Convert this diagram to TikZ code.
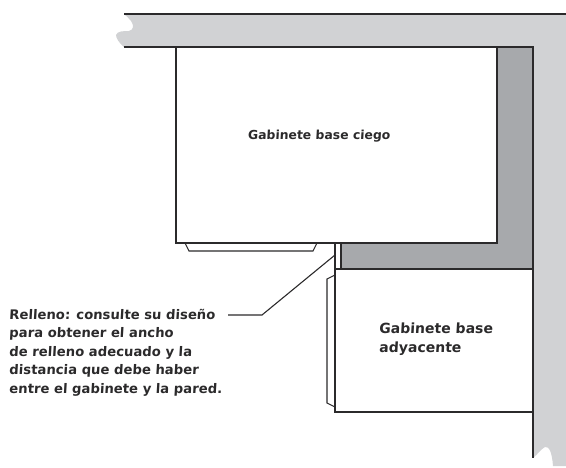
\documentclass[tikz,border=0pt]{standalone}
\usepackage{fontspec}
\setmainfont[BoldFeatures={FakeSlant=0.06}]{DejaVu Sans}
\usepackage{tikz}
\usetikzlibrary{positioning, calc}
\definecolor{wallgray}{HTML}{D1D2D4}
\definecolor{gapgray}{HTML}{A7A9AC}
\definecolor{inkline}{HTML}{2B2A2B}

\begin{document}
\begin{tikzpicture}[x=1pt, y=-1pt, outline/.style={draw=inkline, line width=1.4pt},
    thinline/.style={draw=inkline, line width=1.1pt},
    cabinet/.style={outline, fill=white},
    label/.style={font=\bfseries\fontsize{13.2}{18.5}\selectfont, color=inkline, align=left, inner sep=0pt}]
                \useasboundingbox (0,0) rectangle (566,468);
                % wall
                \fill[wallgray] (124,14) -- (566,14) -- (566,466) -- (553,466)
                .. controls (552,452) and (549,446) .. (545,447)
                .. controls (541,449) and (538,454) .. (533,458)
                -- (533,47) -- (124,47)
                .. controls (119,43) and (116,38) .. (116,35)
                .. controls (117,31) and (124,31) .. (129,31)
                .. controls (134,30) and (134,25) .. (131,21)
                .. controls (129,18) and (126,16) .. (124,14) -- cycle;
                \fill[gapgray] (497,47) rectangle (533,269);
                \fill[gapgray] (341,243) rectangle (533,269);
                \draw[outline] (124,14) -- (566,14);
                \draw[outline] (124,47) -- (533,47) -- (533,458);
                % blind cabinet
                \draw[thinline, fill=white] (185,243) -- (189,251) -- (313,251) -- (317,243);
                \draw[cabinet] (176,47) rectangle (497,243);
                % filler
                \draw[thinline, fill=white] (335,243) rectangle (341,269);
                % adjacent cabinet
                \draw[thinline, fill=white] (335,275) -- (327,279) -- (327,403) -- (335,407);
                \draw[cabinet] (335,269) rectangle (533,412);
                \node[label, font=\bfseries\fontsize{12.4}{18.5}\selectfont] (blind) at (319,136) {Gabinete base ciego};
                \node[label, anchor=west, font=\bfseries\fontsize{14}{19.5}\selectfont] (adjacent) at (379,339) {Gabinete base\\adyacente};
                \node[label, anchor=north west] (note) at (9,309) {Relleno: consulte su diseño\\para obtener el ancho\\de relleno adecuado y la\\distancia que debe haber\\entre el gabinete y la pared.};
                \coordinate (leadstart) at (228,315);
                \coordinate (leadbend) at (262,315);
                \coordinate (filler) at (335,255);
                \draw[thinline] (leadstart) -- (leadbend) -- (filler);
        \end{tikzpicture}
\end{document}
